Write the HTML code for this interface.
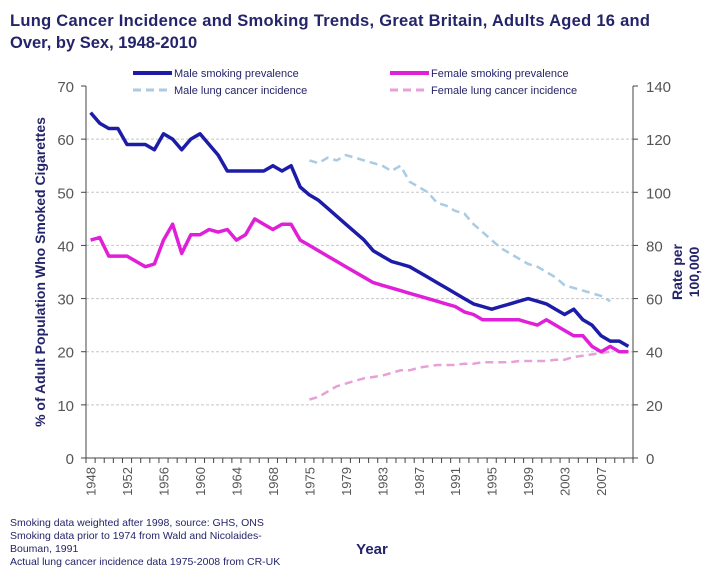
<!DOCTYPE html>
<html><head><meta charset="utf-8">
<style>
body{margin:0;background:#fff;width:720px;height:576px;overflow:hidden;font-family:"Liberation Sans",sans-serif;}
svg{display:block}
</style></head>
<body>
<svg id="chart" width="720" height="576" xmlns="http://www.w3.org/2000/svg" font-family="Liberation Sans, sans-serif">
<text x="10" y="26" font-size="16.5" font-weight="bold" fill="#24246a" textLength="640">Lung Cancer Incidence and Smoking Trends, Great Britain, Adults Aged 16 and</text>
<text x="10" y="48" font-size="16.5" font-weight="bold" fill="#24246a">Over, by Sex, 1948-2010</text>
<g font-size="11" fill="#24246a">
<line x1="133" y1="73" x2="172" y2="73" stroke="#1c1ca8" stroke-width="4"/>
<text x="174" y="77" fill="#24246a">Male smoking prevalence</text>
<line x1="133" y1="90" x2="172" y2="90" stroke="#a9cbe3" stroke-width="3" stroke-dasharray="8,5"/>
<text x="174" y="94" fill="#24246a">Male lung cancer incidence</text>
<line x1="390" y1="73" x2="429" y2="73" stroke="#e020d8" stroke-width="4"/>
<text x="431" y="77" fill="#24246a">Female smoking prevalence</text>
<line x1="390" y1="90" x2="429" y2="90" stroke="#e8a0d8" stroke-width="3" stroke-dasharray="8,5"/>
<text x="431" y="94" fill="#24246a">Female lung cancer incidence</text>
</g>
<g id="grid"></g><g id="axes"></g><g id="series"></g>
<text transform="translate(45,272) rotate(-90)" text-anchor="middle" font-size="14" font-weight="bold" fill="#24246a">% of Adult Population Who Smoked Cigarettes</text>
<text transform="translate(690,272) rotate(-90)" text-anchor="middle" font-size="14" font-weight="bold" fill="#24246a"><tspan x="0" dy="-8">Rate per</tspan><tspan x="0" dy="17">100,000</tspan></text>
<text x="372" y="554" text-anchor="middle" font-size="15" font-weight="bold" fill="#24246a">Year</text>
<g font-size="10.5" fill="#24246a">
<text x="10" y="526">Smoking data weighted after 1998, source: GHS, ONS</text>
<text x="10" y="539">Smoking data prior to 1974 from Wald  and Nicolaides-</text>
<text x="10" y="552">Bouman, 1991</text>
<text x="10" y="565">Actual lung cancer incidence data 1975-2008 from CR-UK</text>
</g>
</svg>
<script>
const categories=[];
for(let y=1948;y<=1970;y++)categories.push(y);
categories.push(1972);
for(let y=1975;y<=2010;y++)categories.push(y);
const leftTicks=[0,10,20,30,40,50,60,70];
const rightTicks=[0,20,40,60,80,100,120,140];
const maleSmoking=[65,63,62,62,59,59,59,58,61,60,58,60,61,59,57,54,54,54,54,54,55,54,55,51,
49.5,48.5,47,45.5,44,42.5,41,39,38,37,36.5,36,35,34,33,32,31,30,29,28.5,28,28.5,29,29.5,30,29.5,29,28,27,28,26,25,23,22,22,21];
const femaleSmoking=[41,41.5,38,38,38,37,36,36.5,41,44,38.5,42,42,43,42.5,43,41,42,45,44,43,44,44,41,
40,39,38,37,36,35,34,33,32.5,32,31.5,31,30.5,30,29.5,29,28.5,27.5,27,26,26,26,26,26,25.5,25,26,25,24,23,23,21,20,21,20,20];
const maleCancerYears=[];for(let y=1975;y<=2008;y++)maleCancerYears.push(y);
const maleCancer=[112,111,113,112,114,113,112,111,110,108,110,104,102,100,96,95,93,92,88,85,82,79,77,75,73,72,70,68,65,64,63,62,61,59];
const femaleCancer=[22,23,25,27,28,29,30,30.5,31,32,33,33,34,34.5,35,35,35,35.5,35.5,36,36,36,36,36.5,36.5,36.5,36.5,37,37,38,38.5,39,39.5,40];
const L=86,R=633,T=86,B=458;
const step=(R-L)/categories.length;
const xi=i=>L+(i+0.5)*step;
const xYear=y=>xi(categories.indexOf(y));
const yL=v=>B-(v/70)*(B-T);
const yR=v=>B-(v/140)*(B-T);
const NS='http://www.w3.org/2000/svg';
function mk(tag,attrs,parent){const e=document.createElementNS(NS,tag);for(const k in attrs)e.setAttribute(k,attrs[k]);document.getElementById(parent).appendChild(e);return e;}
leftTicks.forEach(v=>{
 if(v>0&&v<70){const g=mk('line',{x1:L,x2:R,y1:yL(v),y2:yL(v),stroke:'#c8c8c8','stroke-dasharray':'3,2'},'grid');
 
 }
 const t=mk('text',{x:L-12,y:yL(v)+6,'text-anchor':'end','font-size':15,fill:'#555'},'axes');t.textContent=v;
 
 
 mk('line',{x1:L-5,x2:L,y1:yL(v),y2:yL(v),stroke:'#444'},'axes');
});
rightTicks.forEach(v=>{
 const t=mk('text',{x:R+13,y:yR(v)+6,'font-size':15,fill:'#555'},'axes');t.textContent=v;
 
 
 mk('line',{x1:R,x2:R+5,y1:yR(v),y2:yR(v),stroke:'#444'},'axes');
});
const ax=mk('line',{x1:L,x2:L,y1:T,y2:B,stroke:'#444'},'axes');


const ar=mk('line',{x1:R,x2:R,y1:T,y2:B,stroke:'#444'},'axes');


const xb=mk('line',{x1:L,x2:R,y1:B,y2:B,stroke:'#444'},'axes');


for(let i=0;i<=categories.length;i++)mk('line',{x1:L+i*step,x2:L+i*step,y1:B,y2:B+5,stroke:'#444'},'axes');
categories.forEach((c,i)=>{if(i%4===0){
 const t=mk('text',{transform:`translate(${xi(i)+5},${B+9}) rotate(-90)`,'text-anchor':'end','font-size':13,fill:'#555'},'axes');t.textContent=c;
 
 }});
function line(xs,ys,style,name){
 const d=xs.map((x,i)=>(i?'L':'M')+x.toFixed(1)+','+ys[i].toFixed(1)).join(' ');
 const p=mk('path',Object.assign({d:d,fill:'none','stroke-linejoin':'round'},style),'series');
 
 
}
line(maleCancerYears.map(xYear),maleCancer.map(yR),{stroke:'#a9cbe3','stroke-width':2.5,'stroke-dasharray':'8,5'},'male-lung-cancer-line');
line(maleCancerYears.map(xYear),femaleCancer.map(yR),{stroke:'#e8a0d8','stroke-width':2.5,'stroke-dasharray':'8,5'},'female-lung-cancer-line');
line(categories.map((c,i)=>xi(i)),femaleSmoking.map(yL),{stroke:'#e020d8','stroke-width':3.5},'female-smoking-line');
line(categories.map((c,i)=>xi(i)),maleSmoking.map(yL),{stroke:'#1c1ca8','stroke-width':3.5},'male-smoking-line');
</script>
</body></html>
